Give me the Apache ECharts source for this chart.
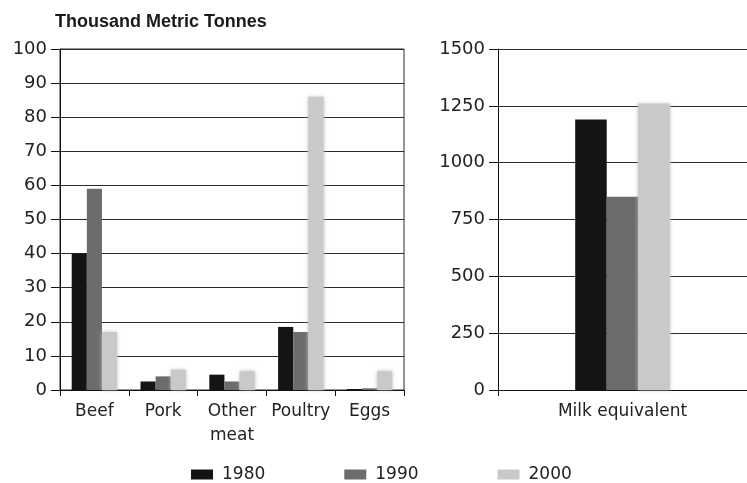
<!DOCTYPE html>
<html>
<head>
<meta charset="utf-8">
<script src="https://cdn.jsdelivr.net/npm/echarts@6/dist/echarts.min.js"></script>
<style>
  html, body { margin: 0; padding: 0; background: #fff; }
  #chart { width: 747px; height: 483px; }
</style>
</head>
<body>
<div id="chart"></div>
<script>
// Meat and egg production, thousand metric tonnes
const meatCategories = ['Beef', 'Pork', 'Other\nmeat', 'Poultry', 'Eggs'];
const meat1980 = [40, 2.5, 4.5, 18.5, 0.3];
const meat1990 = [59, 4, 2.5, 17, 0.5];
const meat2000 = [17, 6, 5.5, 86, 5.5];

// Milk (milk equivalent), thousand metric tonnes
const milkCategories = ['Milk equivalent'];
const milk1980 = [1190];
const milk1990 = [850];
const milk2000 = [1260];

const years = ['1980', '1990', '2000'];
const meatTicks = { min: 0, max: 100, interval: 10 };
const milkTicks = { min: 0, max: 1500, interval: 250 };

const colors = ['#141414', '#6c6c6c', '#c9c9c9'];
const font = 'DejaVu Sans, Verdana, sans-serif';
const textColor = '#222';

const chart = echarts.init(document.getElementById('chart'), null, { renderer: 'canvas' });

function valueAxis(gridIndex, ticks) {
  return {
    type: 'value', gridIndex,
    min: ticks.min, max: ticks.max, interval: ticks.interval,
    axisLine: { show: true, lineStyle: { color: '#111', width: 1 } },
    axisTick: { show: true, length: 9, lineStyle: { color: '#111' } },
    axisLabel: {
      color: textColor, fontFamily: font, fontSize: 18, margin: 13,
      formatter: v => String(v)
    },
    splitLine: { show: true, lineStyle: { color: '#2a2a2a', width: 1 } }
  };
}

function categoryAxis(gridIndex, data, lh) {
  return {
    type: 'category', gridIndex, data,
    axisLine: { show: true, onZero: false, lineStyle: { color: '#111', width: 1 } },
    axisTick: { show: true, length: 6, lineStyle: { color: '#111' } },
    axisLabel: { color: textColor, fontFamily: font, fontSize: 17, margin: 10, lineHeight: lh, interval: 0 }
  };
}

function barSeries(name, xi, data, colorIdx, catGap) {
  const s = {
    name, type: 'bar', xAxisIndex: xi, yAxisIndex: xi, data,
    barGap: '0%', barCategoryGap: catGap,
    itemStyle: { color: colors[colorIdx] },
    emphasis: { disabled: true }
  };
  if (colorIdx === 2) {
    s.itemStyle.shadowBlur = 4;
    s.itemStyle.shadowColor = 'rgba(190,190,190,0.9)';
  }
  return s;
}

chart.setOption({
  animation: false,
  backgroundColor: '#fff',
  title: {
    text: 'Thousand Metric Tonnes',
    left: 50, top: 8,
    textStyle: { fontFamily: 'Liberation Sans, Arial, sans-serif', fontWeight: 'bold', fontSize: 18, color: '#1a1a1a' }
  },
  legend: {
    data: years,
    left: 186, top: 461,
    itemWidth: 22, itemHeight: 10, itemGap: 79,
    icon: 'rect',
    textStyle: { fontFamily: font, fontSize: 17, color: textColor, padding: [0, 0, 0, 4] }
  },
  grid: [
    { left: 60, right: 343, top: 49, bottom: 93, show: true, borderColor: '#2a2a2a', borderWidth: 1, backgroundColor: 'transparent' },
    { left: 498, right: -6, top: 49, bottom: 93 }
  ],
  xAxis: [
    categoryAxis(0, meatCategories, 24),
    categoryAxis(1, milkCategories, 24)
  ],
  yAxis: [
    valueAxis(0, meatTicks),
    valueAxis(1, milkTicks)
  ],
  series: [
    barSeries(years[0], 0, meat1980, 0, '34%'),
    barSeries(years[1], 0, meat1990, 1, '34%'),
    barSeries(years[2], 0, meat2000, 2, '34%'),
    barSeries(years[0], 1, milk1980, 0, '62%'),
    barSeries(years[1], 1, milk1990, 1, '62%'),
    barSeries(years[2], 1, milk2000, 2, '62%')
  ]
});
</script>
</body>
</html>
